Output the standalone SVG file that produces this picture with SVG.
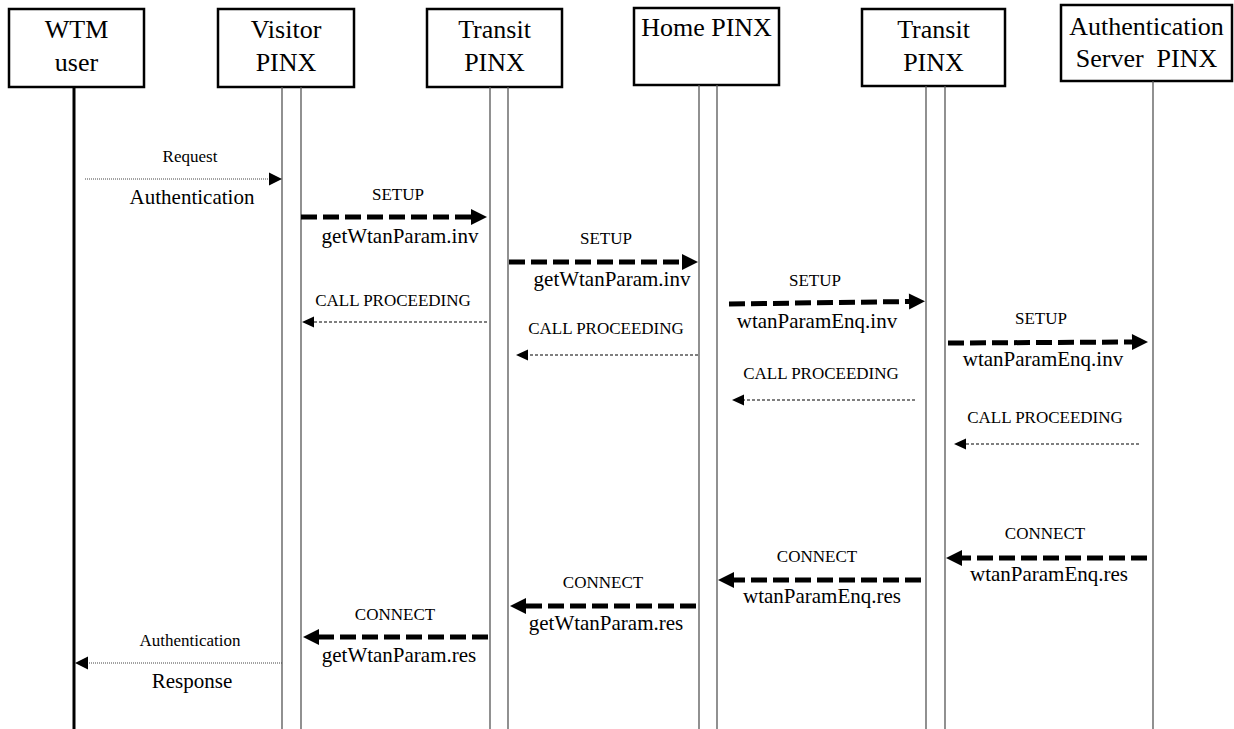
<svg xmlns="http://www.w3.org/2000/svg" width="1234" height="729" viewBox="0 0 1234 729">
<style>
.box{fill:#fff;stroke:#000;stroke-width:2.5}
.hd{font-family:"Liberation Serif","Times New Roman",serif;font-size:26px;fill:#000;text-anchor:middle;white-space:pre}
.sm{font-family:"Liberation Serif","Times New Roman",serif;font-size:17px;fill:#000;text-anchor:middle}
.lg{font-family:"Liberation Serif","Times New Roman",serif;font-size:21px;fill:#000;text-anchor:middle}
.life{stroke:#555;stroke-width:1.3;fill:none}
.thick{stroke:#000;stroke-width:5;stroke-dasharray:16 6;fill:none;marker-end:url(#ah)}
.cp{stroke:#000;stroke-width:1.2;stroke-dasharray:3 2;fill:none;marker-end:url(#as)}
.dot{stroke:#444;stroke-width:1;stroke-dasharray:1 1;fill:none;marker-end:url(#ad)}
</style>
<defs>
<marker id="ah" markerUnits="userSpaceOnUse" markerWidth="17" markerHeight="16" refX="0" refY="8" orient="auto" overflow="visible"><path d="M0,0 L16,8 L0,16 Z" fill="#000"/></marker>
<marker id="as" markerUnits="userSpaceOnUse" markerWidth="13" markerHeight="11" refX="0" refY="5.5" orient="auto" overflow="visible"><path d="M0,0 L12,5.5 L0,11 Z" fill="#000"/></marker>
<marker id="ad" markerUnits="userSpaceOnUse" markerWidth="14" markerHeight="13" refX="0" refY="6.5" orient="auto" overflow="visible"><path d="M0,0 L13,6.5 L0,13 Z" fill="#000"/></marker>
</defs>
<rect width="1234" height="729" fill="#fff"/>

<g id="wtm-user">
<rect class="box" x="9" y="9" width="135" height="78"/>
<text class="hd" x="76.5" y="38">WTM</text>
<text class="hd" x="76.5" y="71">user</text>
<line x1="74" y1="87" x2="74" y2="729" stroke="#000" stroke-width="3"/>
</g>
<g id="visitor-pinx">
<rect class="box" x="218" y="9" width="136" height="78"/>
<text class="hd" x="286" y="38">Visitor</text>
<text class="hd" x="286" y="71">PINX</text>
<line class="life" x1="282" y1="87" x2="282" y2="729"/>
<line class="life" x1="301" y1="87" x2="301" y2="729"/>
</g>
<g id="transit-pinx-1">
<rect class="box" x="427" y="9" width="135" height="78"/>
<text class="hd" x="494.5" y="38">Transit</text>
<text class="hd" x="494.5" y="71">PINX</text>
<line class="life" x1="490" y1="87" x2="490" y2="729"/>
<line class="life" x1="508" y1="87" x2="508" y2="729"/>
</g>
<g id="home-pinx">
<rect class="box" x="634" y="8" width="145" height="77"/>
<text class="hd" x="706.5" y="36">Home PINX</text>
<line class="life" x1="699" y1="85" x2="699" y2="729"/>
<line class="life" x1="717" y1="85" x2="717" y2="729"/>
</g>
<g id="transit-pinx-2">
<rect class="box" x="862" y="9" width="143" height="77"/>
<text class="hd" x="933.5" y="38">Transit</text>
<text class="hd" x="933.5" y="71">PINX</text>
<line class="life" x1="926" y1="86" x2="926" y2="729"/>
<line class="life" x1="945" y1="86" x2="945" y2="729"/>
</g>
<g id="auth-server-pinx">
<rect class="box" x="1061" y="5" width="171" height="76" stroke-width="3"/>
<text class="hd" x="1146.5" y="35">Authentication</text>
<text class="hd" x="1146.5" y="67">Server  PINX</text>
<line class="life" x1="1153" y1="81" x2="1153" y2="729"/>
</g>

<g id="connectors">
<line class="dot" x1="85" y1="179" x2="269" y2="179"/>
<line class="thick" x1="301" y1="217" x2="471" y2="217"/>
<line class="thick" x1="509" y1="262" x2="682" y2="262"/>
<line class="cp" x1="487" y1="322" x2="314" y2="322"/>
<line class="thick" x1="729" y1="304" x2="909" y2="301.5"/>
<line class="cp" x1="698" y1="355" x2="528" y2="355"/>
<line class="cp" x1="915" y1="400" x2="744" y2="400"/>
<line class="thick" x1="948" y1="343" x2="1132" y2="342"/>
<line class="cp" x1="1139" y1="444" x2="966" y2="444"/>
<line class="thick" x1="1147" y1="558" x2="962" y2="558"/>
<line class="thick" x1="921" y1="580" x2="734" y2="580"/>
<line class="thick" x1="696" y1="606" x2="526" y2="606"/>
<line class="thick" x1="488" y1="637" x2="319" y2="637"/>
<line class="dot" x1="282" y1="663" x2="88" y2="663"/>
</g>

<g id="labels">
<text class="sm" x="190" y="162">Request</text>
<text class="lg" x="192" y="204">Authentication</text>
<text class="sm" x="398" y="200">SETUP</text>
<text class="lg" x="400" y="243">getWtanParam.inv</text>
<text class="sm" x="606" y="244">SETUP</text>
<text class="lg" x="612" y="286">getWtanParam.inv</text>
<text class="sm" x="393" y="306">CALL PROCEEDING</text>
<text class="sm" x="815" y="286">SETUP</text>
<text class="lg" x="817" y="328">wtanParamEnq.inv</text>
<text class="sm" x="606" y="334">CALL PROCEEDING</text>
<text class="sm" x="821" y="379">CALL PROCEEDING</text>
<text class="sm" x="1041" y="324">SETUP</text>
<text class="lg" x="1043" y="366">wtanParamEnq.inv</text>
<text class="sm" x="1045" y="423">CALL PROCEEDING</text>
<text class="sm" x="1045" y="539">CONNECT</text>
<text class="lg" x="1049" y="581">wtanParamEnq.res</text>
<text class="sm" x="817" y="562">CONNECT</text>
<text class="lg" x="822" y="603">wtanParamEnq.res</text>
<text class="sm" x="603" y="588">CONNECT</text>
<text class="lg" x="606" y="630">getWtanParam.res</text>
<text class="sm" x="395" y="620">CONNECT</text>
<text class="lg" x="399" y="662">getWtanParam.res</text>
<text class="sm" x="190" y="646">Authentication</text>
<text class="lg" x="192" y="688">Response</text>
</g>
</svg>
